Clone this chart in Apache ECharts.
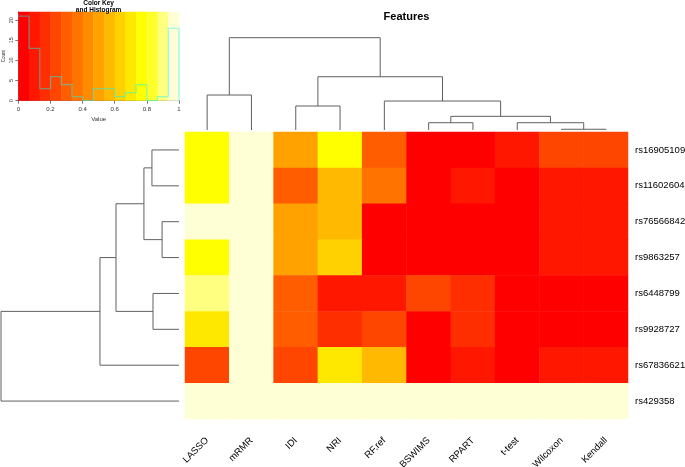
<!DOCTYPE html>
<html>
<head>
<meta charset="utf-8">
<script src="https://cdn.jsdelivr.net/npm/echarts@6/dist/echarts.min.js"></script>
<style>html,body{margin:0;padding:0;background:#fff}#c{width:685px;height:467px}</style>
</head>
<body>
<div id="c"></div>
<script>
// ---------- data ----------
const features = ['LASSO','mRMR','IDI','NRI','RF.ref','BSWIMS','RPART','t-test','Wilcoxon','Kendall'];
const snps = ['rs16905109','rs11602604','rs76566842','rs9863257','rs6448799','rs9928727','rs67836621','rs429358'];
// cell values per SNP row, in feature order
const v_rs16905109 = [0.78, 1.00, 0.50, 0.78, 0.30, 0.03, 0.03, 0.10, 0.24, 0.24];
const v_rs11602604 = [0.78, 1.00, 0.30, 0.57, 0.37, 0.03, 0.10, 0.03, 0.10, 0.10];
const v_rs76566842 = [1.00, 1.00, 0.50, 0.57, 0.03, 0.03, 0.03, 0.03, 0.10, 0.10];
const v_rs9863257  = [0.78, 1.00, 0.50, 0.63, 0.03, 0.03, 0.03, 0.03, 0.10, 0.10];
const v_rs6448799  = [0.90, 1.00, 0.30, 0.10, 0.10, 0.24, 0.17, 0.03, 0.03, 0.03];
const v_rs9928727  = [0.70, 1.00, 0.30, 0.17, 0.24, 0.03, 0.17, 0.03, 0.03, 0.03];
const v_rs67836621 = [0.24, 1.00, 0.24, 0.70, 0.57, 0.03, 0.10, 0.03, 0.10, 0.10];
const v_rs429358   = [1.00, 1.00, 1.00, 1.00, 1.00, 1.00, 1.00, 1.00, 1.00, 1.00];
const rowValues = [v_rs16905109, v_rs11602604, v_rs76566842, v_rs9863257, v_rs6448799, v_rs9928727, v_rs67836621, v_rs429358];

// column dendrogram merges (negative = leaf index, positive = earlier merge), height
const colMerges = [[-9,-10,0.008],[-6,-7,0.079],[-8,1,0.079],[2,3,0.148],[-3,-4,0.26],[-5,4,0.314],[-1,-2,0.379],[5,6,0.577],[7,8,1.0]];
// row dendrogram merges
const rowMerges = [[-3,-4,0.095],[-5,-6,0.146],[-1,-2,0.152],[3,1,0.197],[4,2,0.354],[5,-7,0.444],[6,-8,1.0]];

const nBreaks = 15;
const keyTicks = [0, 0.2, 0.4, 0.6, 0.8, 1];
const countTicks = [0, 5, 10, 15, 20];

// ---------- styles ----------
const heatColors = ['#FF0000','#FF1700','#FF2E00','#FF4600','#FF5D00','#FF7400','#FF8B00','#FFA200','#FFB900','#FFD100','#FFE800','#FFFF00','#FFFF2B','#FFFF80','#FFFFD5'];
const FONT = 'Liberation Sans, Arial, sans-serif';
const LINE = '#606060';

// ---------- derived ----------
const heatData = [];
rowValues.forEach((row, r) => row.forEach((v, c) => heatData.push([c, r, v])));
const pieces = heatColors.map((col, i) => i === nBreaks - 1
  ? {gte: i / nBreaks, lte: 1.0001, color: col}
  : {gte: i / nBreaks, lt: (i + 1) / nBreaks, color: col});

const counts = new Array(nBreaks).fill(0);
heatData.forEach(d => { counts[Math.min(nBreaks - 1, Math.floor(d[2] * nBreaks))]++; });
const maxCount = Math.max(...counts);
const yMax = maxCount / 0.95;
const histPts = [];
counts.forEach((cnt, i) => { histPts.push([i / nBreaks, cnt]); histPts.push([(i + 1) / nBreaks, cnt]); });
histPts.push([1, 0]);
const bands = heatColors.map((col, i) => [i / nBreaks, (i + 1) / nBreaks, i]);

function dendroSegments(merges) {
  const pos = [], hgt = [];
  const leafPos = k => k - 0.5;
  const segs = [];
  merges.forEach((m, i) => {
    const get = id => id < 0 ? [leafPos(-id), 0] : [pos[id - 1], hgt[id - 1]];
    const a = get(m[0]), b = get(m[1]);
    pos[i] = (a[0] + b[0]) / 2; hgt[i] = m[2];
    segs.push([a[0], a[1], b[0], b[1], m[2]]);
  });
  return segs;
}
const colSegs = dendroSegments(colMerges);
const rowSegs = dendroSegments(rowMerges);

// ---------- chart ----------
const chart = echarts.init(document.getElementById('c'));
const hidden = {show: false};
chart.setOption({
  animation: false,
  backgroundColor: '#fff',
  textStyle: {fontFamily: FONT},
  title: [
    {text: 'Features', left: 406.5, textAlign: 'center', top: 11.5, padding: 0,
     textStyle: {fontSize: 11, fontWeight: 'bold', color: '#000', fontFamily: FONT}},
    {text: 'Color Key\nand Histogram', left: 98.6, textAlign: 'center', top: 0, padding: 0,
     textStyle: {fontSize: 6.5, fontWeight: 'bold', color: '#000', lineHeight: 6.6, fontFamily: FONT}}
  ],
  grid: [
    {left: 18.3, top: 11.7, width: 160.7, height: 89, outerBoundsMode: 'none', containLabel: false},
    {left: 185, top: 132, width: 443, height: 287, outerBoundsMode: 'none', containLabel: false},
    {left: 185, top: 37.7, width: 443, height: 92.3, outerBoundsMode: 'none', containLabel: false},
    {left: 1, top: 132, width: 178, height: 287, outerBoundsMode: 'none', containLabel: false}
  ],
  xAxis: [
    {gridIndex: 0, type: 'value', min: 0, max: 1, interval: 0.2,
     name: 'Value', nameLocation: 'middle', nameGap: 16,
     nameTextStyle: {fontSize: 6, color: '#333'},
     axisLine: {lineStyle: {color: '#555', width: 0.8}},
     axisTick: {length: 3, lineStyle: {color: '#555', width: 0.8}},
     axisLabel: {fontSize: 6, color: '#333', margin: 6, customValues: keyTicks,
       formatter: v => String(v)},
     splitLine: hidden},
    {gridIndex: 1, type: 'category', data: features, position: 'bottom',
     axisLine: hidden, axisTick: hidden,
     axisLabel: {rotate: 45, fontSize: 9.5, color: '#000', margin: 20, interval: 0}},
    {gridIndex: 2, type: 'value', min: 0, max: features.length, show: false},
    {gridIndex: 3, type: 'value', min: 0, max: 1, inverse: true, show: false}
  ],
  yAxis: [
    {gridIndex: 0, type: 'value', min: 0, max: yMax,
     name: 'Count', nameLocation: 'middle', nameGap: 12, nameRotate: 90,
     nameTextStyle: {fontSize: 4.5, color: '#333'},
     axisLine: {show: true, lineStyle: {color: '#555', width: 0.8}},
     axisTick: {show: true, length: 3, customValues: countTicks, lineStyle: {color: '#555', width: 0.8}},
     axisLabel: {fontSize: 5.5, color: '#333', rotate: 90, margin: 4, customValues: countTicks},
     splitLine: hidden},
    {gridIndex: 1, type: 'category', data: snps, inverse: true, position: 'right',
     axisLine: hidden, axisTick: hidden,
     axisLabel: {fontSize: 9.5, color: '#000', margin: 7}},
    {gridIndex: 2, type: 'value', min: 0, max: 1, show: false},
    {gridIndex: 3, type: 'value', min: 0, max: snps.length, inverse: true, show: false}
  ],
  visualMap: {type: 'piecewise', show: false, seriesIndex: 1, dimension: 2, pieces: pieces},
  series: [
    {type: 'custom', xAxisIndex: 0, yAxisIndex: 0, data: bands, silent: true,
     renderItem: (p, api) => {
       const a = api.coord([api.value(0), yMax]);
       const b = api.coord([api.value(1), 0]);
       return {type: 'rect', shape: {x: a[0], y: a[1], width: b[0] - a[0] + 0.4, height: b[1] - a[1]},
               style: {fill: heatColors[api.value(2)]}};
     }},
    {type: 'heatmap', xAxisIndex: 1, yAxisIndex: 1, data: heatData, itemStyle: {borderWidth: 0}},
    {type: 'line', xAxisIndex: 0, yAxisIndex: 0, data: histPts, showSymbol: false, silent: true,
     lineStyle: {color: 'rgba(0,255,255,0.45)', width: 1.2}, z: 5},
    {type: 'custom', xAxisIndex: 2, yAxisIndex: 2, data: colSegs, silent: true,
     renderItem: (p, api) => {
       const h = api.value(4);
       const pts = [api.coord([api.value(0), api.value(1)]), api.coord([api.value(0), h]),
                    api.coord([api.value(2), h]), api.coord([api.value(2), api.value(3)])];
       return {type: 'polyline', shape: {points: pts}, style: {stroke: LINE, lineWidth: 1, fill: null}};
     }},
    {type: 'custom', xAxisIndex: 3, yAxisIndex: 3, data: rowSegs, silent: true,
     renderItem: (p, api) => {
       const h = api.value(4);
       const pts = [api.coord([api.value(1), api.value(0)]), api.coord([h, api.value(0)]),
                    api.coord([h, api.value(2)]), api.coord([api.value(3), api.value(2)])];
       return {type: 'polyline', shape: {points: pts}, style: {stroke: LINE, lineWidth: 1, fill: null}};
     }}
  ]
});
</script>
</body>
</html>
